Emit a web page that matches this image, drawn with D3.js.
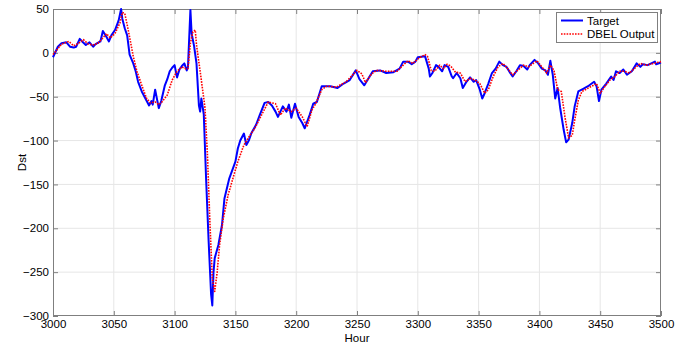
<!DOCTYPE html>
<html>
<head>
<meta charset="utf-8">
<script src="https://cdn.jsdelivr.net/npm/d3@7"></script>
<style>
  html, body { margin: 0; padding: 0; background: #fff; }
  svg { display: block; font-family: "Liberation Sans", Arial, sans-serif; }
</style>
</head>
<body>
<svg id="chart" width="691" height="347"></svg>
<script>
// Observed Dst index (hour, nT)
const targetSeries = [
  [3000,-5],[3002,1],[3004,7],[3007,11],[3011,12],[3014,7],[3017,6],[3019,7],[3022,16],[3024,13],
  [3027,9],[3030,12],[3033,7],[3035,10],[3039,13],[3041,25],[3044,18],[3046,13],[3048,20],[3051,26],
  [3054,37],[3056,50],[3057,39],[3059,28],[3061,20],[3063,-2],[3066,-12],[3068,-21],[3070,-33],[3073,-44],
  [3076,-52],[3079,-60],[3081,-55],[3082,-59],[3084,-42],[3087,-63],[3089,-55],[3092,-37],[3094,-30],[3096,-21],
  [3098,-17],[3100,-14],[3102,-28],[3104,-19],[3106,-15],[3108,-12],[3110,-20],[3111,-16],[3113,49],[3114,22],
  [3116,8],[3118,-12],[3120,-60],[3121,-67],[3122,-52],[3124,-70],[3126,-147],[3128,-215],[3130,-275],[3131,-288],
  [3132,-250],[3133,-234],[3136,-219],[3139,-196],[3141,-166],[3145,-143],[3150,-124],[3152,-109],[3154,-100],[3157,-92],
  [3159,-105],[3161,-100],[3163,-92],[3167,-82],[3170,-71],[3174,-57],[3177,-56],[3180,-60],[3183,-67],[3185,-73],
  [3189,-61],[3192,-67],[3194,-59],[3196,-74],[3199,-58],[3202,-73],[3205,-80],[3207,-86],[3211,-71],[3214,-58],
  [3217,-56],[3221,-38],[3228,-38],[3234,-40],[3239,-35],[3244,-31],[3249,-20],[3252,-30],[3256,-37],[3259,-30],
  [3263,-21],[3269,-20],[3274,-23],[3280,-22],[3285,-18],[3288,-10],[3292,-10],[3295,-13],[3298,-10],[3300,-5],
  [3306,-4],[3309,-18],[3310,-27],[3312,-23],[3315,-14],[3317,-16],[3320,-21],[3322,-14],[3325,-16],[3328,-27],
  [3329,-29],[3332,-23],[3335,-29],[3337,-40],[3340,-33],[3343,-28],[3346,-33],[3348,-31],[3351,-42],[3353,-52],
  [3355,-46],[3358,-35],[3361,-23],[3364,-18],[3367,-10],[3370,-14],[3373,-16],[3376,-23],[3378,-27],[3381,-21],
  [3384,-14],[3387,-15],[3390,-19],[3392,-14],[3396,-8],[3399,-12],[3402,-18],[3405,-20],[3407,-25],[3409,-9],
  [3411,-25],[3413,-52],[3415,-40],[3417,-62],[3420,-88],[3422,-102],[3424,-99],[3427,-80],[3429,-61],[3432,-44],
  [3436,-41],[3440,-38],[3443,-35],[3445,-33],[3447,-38],[3449,-55],[3451,-42],[3455,-35],[3459,-27],[3461,-31],
  [3463,-21],[3466,-23],[3469,-19],[3472,-25],[3476,-21],[3480,-12],[3483,-16],[3485,-13],[3489,-14],[3495,-10],
  [3496,-13],[3500,-11]
];

// Model prediction (hour, nT)
const outputSeries = [
  [3000,-2],[3003,3],[3007,10],[3013,13],[3017,8],[3021,11],[3025,15],[3029,10],[3033,9],[3037,11],
  [3041,17],[3044,22],[3047,17],[3051,22],[3055,34],[3057,46],[3059,45],[3061,32],[3063,18],[3066,-4],
  [3069,-21],[3073,-37],[3077,-52],[3080,-57],[3084,-56],[3087,-59],[3089,-57],[3094,-48],[3098,-31],[3102,-21],
  [3106,-16],[3109,-18],[3111,-18],[3113,11],[3115,24],[3117,26],[3118,9],[3121,-21],[3124,-52],[3125,-63],
  [3127,-116],[3129,-192],[3131,-257],[3133,-272],[3135,-250],[3137,-219],[3140,-189],[3144,-162],[3148,-143],[3152,-124],
  [3157,-105],[3162,-94],[3166,-86],[3170,-75],[3177,-56],[3183,-58],[3187,-71],[3191,-63],[3196,-67],[3200,-63],
  [3205,-73],[3209,-84],[3213,-65],[3216,-58],[3221,-42],[3225,-38],[3233,-39],[3241,-33],[3250,-20],[3254,-24],
  [3257,-34],[3262,-24],[3266,-20],[3274,-21],[3283,-21],[3288,-14],[3292,-9],[3296,-12],[3301,-6],[3306,-2],
  [3308,-4],[3311,-20],[3314,-21],[3318,-14],[3321,-18],[3324,-13],[3327,-15],[3331,-22],[3335,-23],[3339,-33],
  [3343,-29],[3347,-31],[3351,-35],[3355,-46],[3358,-42],[3362,-27],[3366,-16],[3370,-12],[3374,-18],[3378,-25],
  [3382,-20],[3387,-14],[3391,-16],[3395,-12],[3398,-9],[3402,-16],[3406,-23],[3409,-14],[3412,-20],[3415,-42],
  [3418,-44],[3421,-73],[3424,-97],[3427,-94],[3429,-77],[3432,-54],[3435,-44],[3439,-41],[3443,-38],[3447,-35],
  [3450,-46],[3454,-38],[3458,-31],[3462,-27],[3466,-21],[3470,-21],[3474,-23],[3478,-18],[3483,-12],[3488,-14],
  [3494,-12],[3500,-10]
];

const xTicks = [3000, 3050, 3100, 3150, 3200, 3250, 3300, 3350, 3400, 3450, 3500];
const yTicks = [-300, -250, -200, -150, -100, -50, 0, 50];
const seriesNames = ["Target", "DBEL Output"];

const svg = d3.select("#chart");
const plotLeft = 53, plotRight = 661, plotTop = 9, plotBottom = 316;

const x = d3.scaleLinear().domain([3000, 3500]).range([plotLeft, plotRight]);
const y = d3.scaleLinear().domain([-300, 50]).range([plotBottom, plotTop]);

const axisColor = "#7f7f7f";
const gridColor = "#e6e6e6";
const fontSize = "11.5px";

// grid
const grid = svg.append("g");
grid.selectAll("line.gx").data(xTicks.slice(1, -1)).join("line")
  .attr("x1", d => x(d)).attr("x2", d => x(d))
  .attr("y1", plotTop).attr("y2", plotBottom)
  .attr("stroke", gridColor).attr("stroke-width", 1);
grid.selectAll("line.gy").data(yTicks.slice(1, -1)).join("line")
  .attr("x1", plotLeft).attr("x2", plotRight)
  .attr("y1", d => y(d)).attr("y2", d => y(d))
  .attr("stroke", gridColor).attr("stroke-width", 1);

// axes with inward ticks
function styleAxis(g) {
  g.select(".domain").remove();
  g.selectAll(".tick line").attr("stroke", axisColor);
  g.selectAll(".tick text").attr("fill", "#000").style("font-size", fontSize)
    .style("font-family", '"Liberation Sans", Arial, sans-serif');
}
svg.append("g").attr("transform", `translate(0,${plotBottom})`)
  .call(d3.axisBottom(x).tickValues(xTicks).tickFormat(d3.format("d")).tickSizeInner(-5).tickSizeOuter(0).tickPadding(4))
  .call(styleAxis);
svg.append("g").attr("transform", `translate(0,${plotTop})`)
  .call(d3.axisTop(x).tickValues(xTicks).tickFormat("").tickSizeInner(-5).tickSizeOuter(0))
  .call(styleAxis);
svg.append("g").attr("transform", `translate(${plotLeft},0)`)
  .call(d3.axisLeft(y).tickValues(yTicks).tickFormat(d3.format("d")).tickSizeInner(-5).tickSizeOuter(0).tickPadding(4))
  .call(styleAxis);
svg.append("g").attr("transform", `translate(${plotRight},0)`)
  .call(d3.axisRight(y).tickValues(yTicks).tickFormat("").tickSizeInner(-5).tickSizeOuter(0))
  .call(styleAxis);

// box
svg.append("rect")
  .attr("x", plotLeft + 0.5).attr("y", plotTop + 0.5)
  .attr("width", plotRight - plotLeft - 1).attr("height", plotBottom - plotTop - 1)
  .attr("fill", "none").attr("stroke", axisColor).attr("stroke-width", 1);

// series
const line = d3.line().x(d => x(d[0])).y(d => y(d[1]));
svg.append("path").datum(targetSeries)
  .attr("d", line).attr("fill", "none")
  .attr("stroke", "#0000ff").attr("stroke-width", 2).attr("stroke-linejoin", "round");
svg.append("path").datum(outputSeries)
  .attr("d", line).attr("fill", "none")
  .attr("stroke", "#ff0000").attr("stroke-width", 1.6).attr("stroke-dasharray", "1.6,1.2")
  .attr("stroke-linejoin", "round");

// axis titles
svg.append("text").attr("x", (plotLeft + plotRight) / 2).attr("y", 342)
  .attr("text-anchor", "middle").style("font-size", fontSize).text("Hour");
svg.append("text").attr("transform", `translate(26,${(plotTop + plotBottom) / 2}) rotate(-90)`)
  .attr("text-anchor", "middle").style("font-size", fontSize).text("Dst");

// legend
const lg = svg.append("g");
lg.append("rect").attr("x", 556.5).attr("y", 12.5).attr("width", 101).attr("height", 30)
  .attr("fill", "#fff").attr("stroke", axisColor);
const legendStyles = [
  { color: "#0000ff", width: 2, dash: null },
  { color: "#ff0000", width: 1.6, dash: "1.6,1.2" }
];
seriesNames.forEach((name, i) => {
  const yy = 20.5 + i * 13.5;
  lg.append("line").attr("x1", 561).attr("x2", 583).attr("y1", yy).attr("y2", yy)
    .attr("stroke", legendStyles[i].color).attr("stroke-width", legendStyles[i].width)
    .attr("stroke-dasharray", legendStyles[i].dash);
  lg.append("text").attr("x", 587).attr("y", yy + 4).style("font-size", fontSize).text(name);
});
</script>
</body>
</html>
